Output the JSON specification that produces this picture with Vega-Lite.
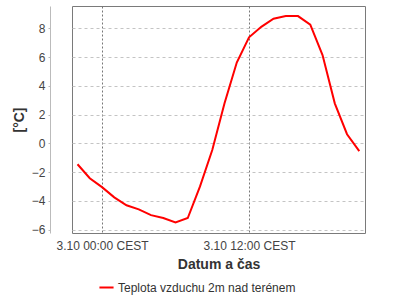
{
  "$schema": "https://vega.github.io/schema/vega-lite/v6.json",
  "width": 293,
  "height": 227,
  "autosize": "none",
  "padding": {"left": 72, "top": 6, "right": 35, "bottom": 67},
  "background": "white",
  "config": {
    "view": {"stroke": "#7a7a7a", "strokeWidth": 1},
    "font": "Liberation Sans"
  },
  "data": {
    "values": [
      {"t": "2023-10-02T22:00:00Z", "v": -1.46, "s": "Teplota vzduchu 2m nad terénem"},
      {"t": "2023-10-02T23:00:00Z", "v": -2.43, "s": "Teplota vzduchu 2m nad terénem"},
      {"t": "2023-10-03T00:00:00Z", "v": -3.05, "s": "Teplota vzduchu 2m nad terénem"},
      {"t": "2023-10-03T01:00:00Z", "v": -3.76, "s": "Teplota vzduchu 2m nad terénem"},
      {"t": "2023-10-03T02:00:00Z", "v": -4.31, "s": "Teplota vzduchu 2m nad terénem"},
      {"t": "2023-10-03T03:00:00Z", "v": -4.6, "s": "Teplota vzduchu 2m nad terénem"},
      {"t": "2023-10-03T04:00:00Z", "v": -5.0, "s": "Teplota vzduchu 2m nad terénem"},
      {"t": "2023-10-03T05:00:00Z", "v": -5.2, "s": "Teplota vzduchu 2m nad terénem"},
      {"t": "2023-10-03T06:00:00Z", "v": -5.5, "s": "Teplota vzduchu 2m nad terénem"},
      {"t": "2023-10-03T07:00:00Z", "v": -5.2, "s": "Teplota vzduchu 2m nad terénem"},
      {"t": "2023-10-03T08:00:00Z", "v": -3.0, "s": "Teplota vzduchu 2m nad terénem"},
      {"t": "2023-10-03T09:00:00Z", "v": -0.47, "s": "Teplota vzduchu 2m nad terénem"},
      {"t": "2023-10-03T10:00:00Z", "v": 2.78, "s": "Teplota vzduchu 2m nad terénem"},
      {"t": "2023-10-03T11:00:00Z", "v": 5.62, "s": "Teplota vzduchu 2m nad terénem"},
      {"t": "2023-10-03T12:00:00Z", "v": 7.37, "s": "Teplota vzduchu 2m nad terénem"},
      {"t": "2023-10-03T13:00:00Z", "v": 8.1, "s": "Teplota vzduchu 2m nad terénem"},
      {"t": "2023-10-03T14:00:00Z", "v": 8.67, "s": "Teplota vzduchu 2m nad terénem"},
      {"t": "2023-10-03T15:00:00Z", "v": 8.85, "s": "Teplota vzduchu 2m nad terénem"},
      {"t": "2023-10-03T16:00:00Z", "v": 8.85, "s": "Teplota vzduchu 2m nad terénem"},
      {"t": "2023-10-03T17:00:00Z", "v": 8.25, "s": "Teplota vzduchu 2m nad terénem"},
      {"t": "2023-10-03T18:00:00Z", "v": 6.14, "s": "Teplota vzduchu 2m nad terénem"},
      {"t": "2023-10-03T19:00:00Z", "v": 2.78, "s": "Teplota vzduchu 2m nad terénem"},
      {"t": "2023-10-03T20:00:00Z", "v": 0.63, "s": "Teplota vzduchu 2m nad terénem"},
      {"t": "2023-10-03T21:00:00Z", "v": -0.54, "s": "Teplota vzduchu 2m nad terénem"}
    ]
  },
  "mark": {"type": "line", "strokeWidth": 2, "clip": true},
  "encoding": {
    "x": {
      "field": "t",
      "type": "temporal",
      "scale": {
        "type": "utc",
        "domain": [
          {"year": 2023, "month": 10, "date": 2, "hours": 21, "minutes": 33, "utc": true},
          {"year": 2023, "month": 10, "date": 3, "hours": 21, "minutes": 28, "utc": true}
        ]
      },
      "axis": {
        "title": "Datum a čas",
        "values": [
          {"year": 2023, "month": 10, "date": 3, "hours": 0, "utc": true},
          {"year": 2023, "month": 10, "date": 3, "hours": 12, "utc": true}
        ],
        "labelExpr": "utcFormat(datum.value, '%-d.%-m %H:%M') + ' CEST'",
        "domain": false,
        "ticks": false,
        "labelPadding": 7,
        "labelFontSize": 12,
        "labelColor": "#444444",
        "labelFont": "Liberation Sans",
        "titleFontSize": 14,
        "titleFontWeight": "bold",
        "titleColor": "#333333",
        "titlePadding": 6,
        "grid": true,
        "gridDash": [2, 2],
        "gridColor": "#777777",
        "gridWidth": 1
      }
    },
    "y": {
      "field": "v",
      "type": "quantitative",
      "scale": {"domain": [-6.24, 9.55], "nice": false, "zero": false},
      "axis": {
        "title": "[°C]",
        "values": [-6, -4, -2, 0, 2, 4, 6, 8],
        "offset": 22,
        "domainColor": "#bbbbbb",
        "tickColor": "#bbbbbb",
        "tickSize": 2,
        "labelPadding": 3,
        "labelFontSize": 12,
        "labelColor": "#444444",
        "labelFont": "Liberation Sans",
        "titleFontSize": 14,
        "titleFontWeight": "bold",
        "titleColor": "#333333",
        "titlePadding": 5,
        "grid": true,
        "gridDash": [3, 3],
        "gridColor": "#c4c4c4",
        "gridWidth": 1
      }
    },
    "color": {
      "field": "s",
      "type": "nominal",
      "scale": {"range": ["#ff0000"]},
      "legend": {
        "title": null,
        "orient": "none",
        "legendX": 26,
        "legendY": 273,
        "symbolType": "stroke",
        "symbolStrokeWidth": 2,
        "symbolSize": 200,
        "labelFontSize": 12,
        "labelLimit": 400,
        "labelColor": "#333333",
        "labelFont": "Liberation Sans",
        "labelOffset": 3
      }
    }
  }
}
